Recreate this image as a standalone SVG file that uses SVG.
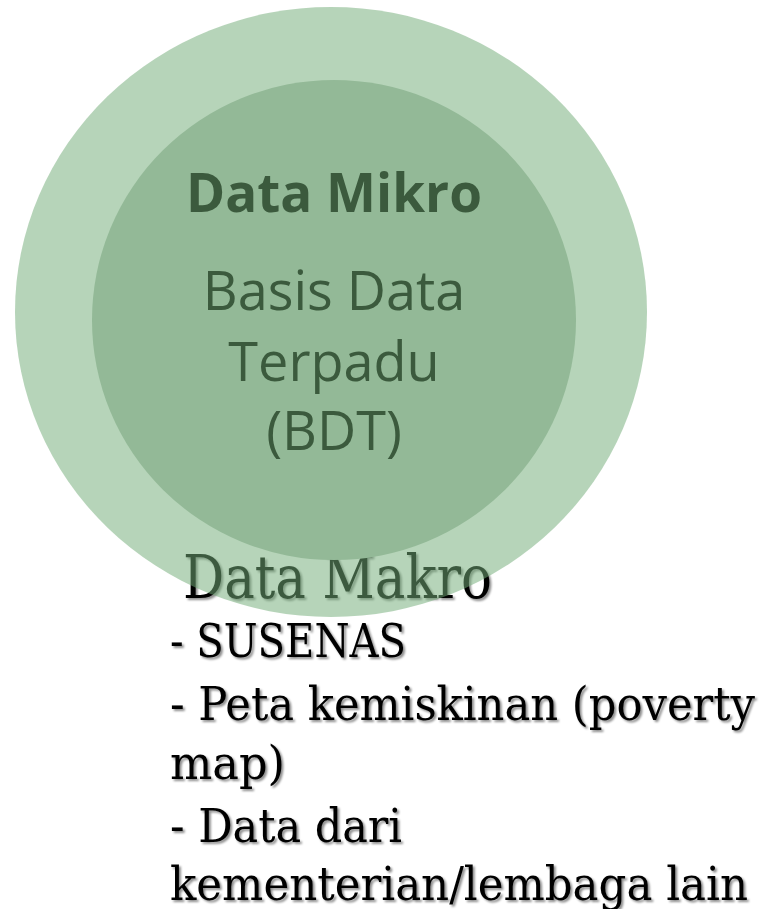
<svg xmlns="http://www.w3.org/2000/svg" width="764" height="909" viewBox="0 0 764 909">
  <defs>
    <filter id="shadow" x="-5%" y="-20%" width="110%" height="140%">
      <feDropShadow dx="2" dy="2" stdDeviation="1.2" flood-color="#000" flood-opacity="0.45"/>
    </filter>
  </defs>
  <style>
    .serif { font-family: "DejaVu Serif Condensed", "DejaVu Serif", "Liberation Serif", serif; font-stretch: condensed; }
    .sans { font-family: "Open Sans", "Noto Sans", "DejaVu Sans", sans-serif; fill: #3b5a3d; text-anchor: middle; }
    .list { font-size: 47px; fill: #000; }
  </style>
  <rect width="764" height="909" fill="#fff"/>

  <!-- macro data heading, sits under the translucent outer ring -->
  <g id="macro-title" filter="url(#shadow)">
    <text class="serif" x="183" y="598" font-size="60" fill="#000" textLength="309" lengthAdjust="spacingAndGlyphs">Data Makro</text>
  </g>

  <!-- outer ring: macro data -->
  <g id="outer-circle">
    <ellipse cx="331" cy="312" rx="316" ry="305" fill="rgb(115,173,121)" fill-opacity="0.52"/>
  </g>

  <!-- inner circle: micro data -->
  <g id="inner-circle">
    <ellipse cx="334" cy="320" rx="242" ry="240" fill="#93b997"/>
    <text class="sans" x="334" y="212" font-size="53" font-weight="bold">Data Mikro</text>
    <text class="sans" x="334" y="310" font-size="54">Basis Data</text>
    <text class="sans" x="334" y="381" font-size="54">Terpadu</text>
    <text class="sans" x="334" y="450" font-size="54">(BDT)</text>
  </g>

  <!-- list of macro data sources -->
  <g id="macro-list" class="serif list" filter="url(#shadow)">
    <text x="170" y="657" textLength="236" lengthAdjust="spacingAndGlyphs">- SUSENAS</text>
    <text x="170" y="720" textLength="585" lengthAdjust="spacingAndGlyphs">- Peta kemiskinan (poverty</text>
    <text x="170" y="779" textLength="115" lengthAdjust="spacingAndGlyphs">map)</text>
    <text x="170" y="842" textLength="232" lengthAdjust="spacingAndGlyphs">- Data dari</text>
    <text x="170" y="900" textLength="578" lengthAdjust="spacingAndGlyphs">kementerian/lembaga lain</text>
  </g>
</svg>
